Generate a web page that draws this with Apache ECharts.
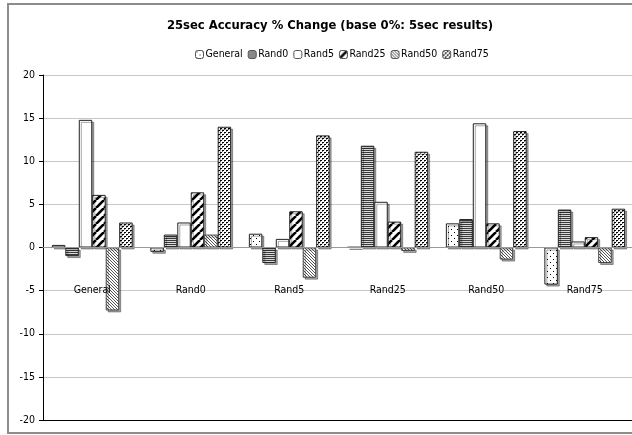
<!DOCTYPE html>
<html>
<head>
<meta charset="utf-8">
<script src="https://cdn.jsdelivr.net/npm/echarts@6/dist/echarts.min.js"></script>
<style>
  html, body { margin: 0; padding: 0; background: #fff; }
  #chart { width: 632px; height: 435px; }
</style>
</head>
<body>
<div id="chart"></div>
<script>
// Test-set groups along the x axis
const categories = ['General', 'Rand0', 'Rand5', 'Rand25', 'Rand50', 'Rand75'];
// Y axis ticks
const yTicks = [-20, -15, -10, -5, 0, 5, 10, 15, 20];

// Accuracy change (%) per training set, one value per group
const seriesNames = ['General', 'Rand0', 'Rand5', 'Rand25', 'Rand50', 'Rand75'];
const generalVals = [0.3, -0.5, 1.6, 0.05, 2.8, -4.3];
const rand0Vals   = [-1.0, 1.5, -1.8, 11.8, 3.3, 4.4];
const rand5Vals   = [14.8, 2.9, 1.0, 5.3, 14.4, 0.7];
const rand25Vals  = [6.1, 6.4, 4.2, 3.0, 2.8, 1.2];
const rand50Vals  = [-7.3, 1.5, -3.5, -0.4, -1.4, -1.8];
const rand75Vals  = [2.9, 14.0, 13.0, 11.1, 13.5, 4.5];
const allVals = [generalVals, rand0Vals, rand5Vals, rand25Vals, rand50Vals, rand75Vals];

// Small tiled fill patterns, drawn on canvases
function tile(w, h, draw) {
  const c = document.createElement('canvas');
  c.width = w; c.height = h;
  const g = c.getContext('2d');
  g.fillStyle = '#fff';
  g.fillRect(0, 0, w, h);
  draw(g, w, h);
  return c;
}
const patterns = [
  // sparse dots
  tile(6, 6, g => { g.fillStyle = '#000'; g.fillRect(1, 1, 1, 1); g.fillRect(4, 4, 1, 1); }),
  // horizontal lines
  tile(4, 2, g => { g.fillStyle = '#3a3a3a'; g.fillRect(0, 0, 4, 1); g.fillStyle = '#d8d8d8'; g.fillRect(0, 1, 4, 1); }),
  // plain white
  tile(4, 4, () => {}),
  // wide forward diagonal stripes
  tile(8, 8, g => {
    g.strokeStyle = '#000'; g.lineWidth = 2.6;
    for (let k = -2; k <= 2; k++) {
      g.beginPath(); g.moveTo(k * 8, 8); g.lineTo(k * 8 + 8, 0); g.stroke();
    }
  }),
  // narrow backward diagonal stripes
  tile(3, 3, g => {
    g.fillStyle = '#555';
    g.fillRect(0, 0, 1, 1); g.fillRect(1, 1, 1, 1); g.fillRect(2, 2, 1, 1);
  }),
  // dense dots
  tile(4, 4, g => {
    g.fillStyle = '#000';
    g.fillRect(0, 0, 2, 1); g.fillRect(2, 2, 2, 1);
    g.fillStyle = '#777';
    g.fillRect(0, 1, 1, 1); g.fillRect(2, 3, 1, 1);
  })
];
const borderColors = ['#222', '#222', '#222', '#222', '#444', '#222'];

const FONT = 'DejaVu Sans Condensed, DejaVu Sans, sans-serif';

const series = seriesNames.map((name, i) => ({
  name: name,
  type: 'bar',
  data: allVals[i],
  barGap: '0%',
  barCategoryGap: '18%',
  itemStyle: {
    color: { image: patterns[i], repeat: 'repeat' },
    borderColor: borderColors[i],
    borderWidth: 1,
    shadowColor: 'rgba(0,0,0,0.35)',
    shadowOffsetX: 2,
    shadowOffsetY: 2,
    shadowBlur: 0
  },
  emphasis: { disabled: true },
  animation: false
}));

// Solid frame line along the bottom of the plot area
series[0].markLine = {
  silent: true,
  symbol: 'none',
  label: { show: false },
  lineStyle: { color: '#000', type: 'solid', width: 1 },
  data: [{ yAxis: yTicks[0] }],
  animation: false
};

const chart = echarts.init(document.getElementById('chart'), null, { renderer: 'canvas' });
chart.setOption({
  animation: false,
  backgroundColor: '#fff',
  title: {
    text: '25sec Accuracy % Change (base 0%: 5sec results)',
    left: 325,
    textAlign: 'center',
    top: 14.5,
    textStyle: { fontFamily: 'DejaVu Sans, sans-serif', fontSize: 11.6, fontWeight: 'bold', color: '#000' }
  },
  legend: {
    data: seriesNames,
    left: 190,
    top: 44,
    itemWidth: 8,
    itemHeight: 8,
    itemGap: 5,
    itemStyle: { borderWidth: 1, borderColor: '#555', shadowBlur: 0, shadowOffsetX: 0, shadowOffsetY: 0 },
    textStyle: { fontFamily: FONT, fontSize: 10.5, color: '#000', padding: [0, 0, 0, -3] },
    selectedMode: false
  },
  grid: { left: 43, right: -2, top: 75, bottom: 15, containLabel: false, outerBoundsMode: 'none' },
  xAxis: {
    type: 'category',
    data: categories,
    position: 'bottom',
    z: 10,
    axisLine: { onZero: true, lineStyle: { color: '#999', width: 1 } },
    axisTick: { show: false },
    // category names sit just under the -5 grid line
    axisLabel: { margin: -135, fontFamily: FONT, fontSize: 10.5, color: '#000' },
    splitLine: { show: false }
  },
  yAxis: {
    type: 'value',
    min: yTicks[0],
    max: yTicks[yTicks.length - 1],
    interval: 5,
    axisLine: { show: true, lineStyle: { color: '#000', width: 1 } },
    axisTick: { show: true, length: 4, lineStyle: { color: '#000' } },
    axisLabel: { margin: 8, fontFamily: FONT, fontSize: 10.5, color: '#000' },
    splitLine: { show: true, lineStyle: { color: '#c8c8c8', width: 1 } }
  },
  graphic: [
    {
      type: 'rect',
      shape: { x: 8, y: 4, width: 700, height: 429 },
      style: { fill: null, stroke: '#8c8c8c', lineWidth: 2 },
      silent: true,
      z: 100
    }
  ],
  series: series
});
</script>
</body>
</html>
